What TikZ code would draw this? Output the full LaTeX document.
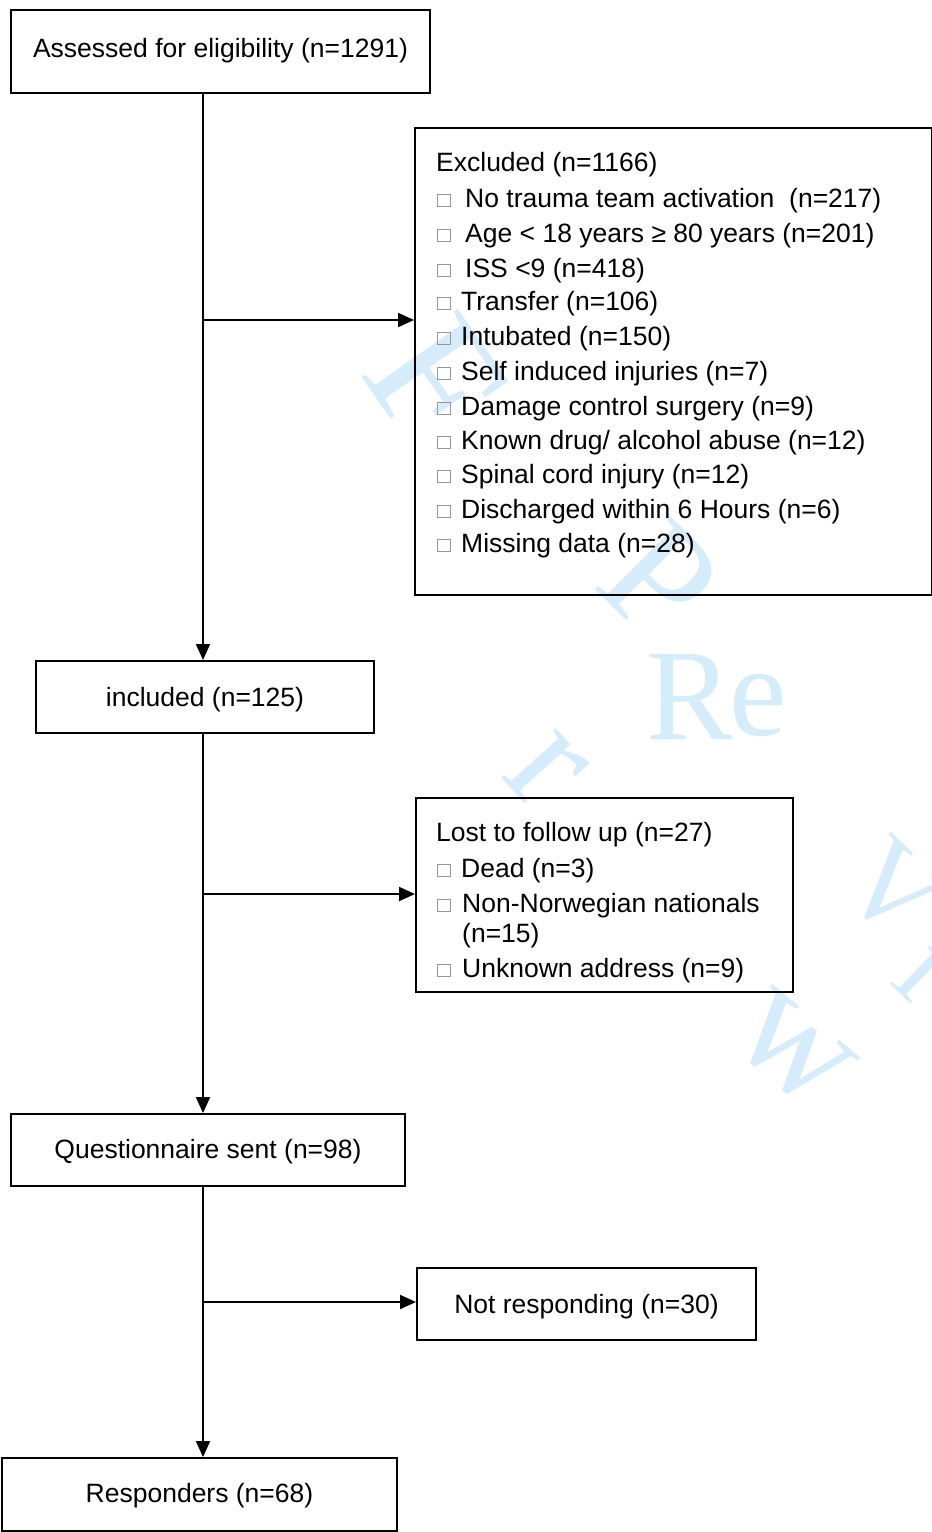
\documentclass[tikz,border=0pt]{standalone}
\usepackage{fontspec}
\setmainfont{Liberation Sans}
\newfontfamily\wmfont{Liberation Serif}
\usetikzlibrary{arrows.meta}
\definecolor{wm}{RGB}{213,236,250}
\definecolor{sqgray}{RGB}{150,150,150}
\begin{document}
\begin{tikzpicture}[x=1pt,y=-1pt,
  box/.style={draw, line width=2pt, inner sep=0pt, anchor=north west,
    font=\fontsize{26.5}{32}\selectfont, text height=19pt, text depth=1pt},
  lbl/.style={font=\fontsize{26.5}{32}\selectfont, inner sep=0pt, anchor=base west},
  sq/.style={draw=sqgray, line width=0.8pt, minimum size=12.5pt, inner sep=0pt, anchor=south west},
  arr/.style={line width=2pt, -{Triangle[length=16pt,width=14pt]}},
  wml/.style={text=wm, inner sep=0pt, font=\wmfont\fontsize{#1}{#1}\selectfont},
  wml/.default=160
]
\useasboundingbox (0,0) rectangle (932,1532);
\fill[white] (0,0) rectangle (932,1532);

% watermark (behind)
\node[wml=180, rotate=-55] (wF) at (435,380) {F};
\node[wml, rotate=-48] (wr) at (545,770) {r};
\node[wml, rotate=-45] (wP) at (660,580) {P};
\node[wml=130] (wR) at (690,697) {R};
\node[wml=130] (we) at (758,705) {e};
\node[wml=120, rotate=-44] (wV) at (893,890) {V};
\node[wml=120, rotate=-44] (wi) at (928,965) {i};
\node[wml, rotate=-40] (ww) at (793,1050) {w};

% boxes
\node[box, minimum width=419pt, minimum height=83pt, text depth=8pt] (assess) at (10,9) {Assessed for eligibility (n=1291)};
\node[box, minimum width=517pt, minimum height=467pt] (excl) at (414,127) {};
\node[box, minimum width=338pt, minimum height=72pt] (incl) at (35,660) {included (n=125)};
\node[box, minimum width=377pt, minimum height=194pt] (lost) at (415,797) {};
\node[box, minimum width=394pt, minimum height=72pt, text depth=3pt] (quest) at (10,1113) {Questionnaire sent (n=98)};
\node[box, minimum width=339pt, minimum height=72pt] (notr) at (416,1267) {Not responding (n=30)};
\node[box, minimum width=395pt, minimum height=73pt, text depth=4pt] (resp) at (1,1457) {Responders (n=68)};

% excluded list
\node[lbl] (ex0) at (436,171) {Excluded (n=1166)};
\node[sq] (b1) at (437,207) {};  \node[lbl] (ex1) at (465,207) {No trauma team activation\ \ (n=217)};
\node[sq] (b2) at (437,242) {};  \node[lbl] (ex2) at (465,242) {Age < 18 years ≥ 80 years (n=201)};
\node[sq] (b3) at (437,277) {};  \node[lbl] (ex3) at (465,277) {ISS <9 (n=418)};
\node[sq] (b4) at (437,310) {};  \node[lbl] (ex4) at (461,310) {Transfer (n=106)};
\node[sq] (b5) at (437,345) {};  \node[lbl] (ex5) at (461,345) {Intubated (n=150)};
\node[sq] (b6) at (437,380) {};  \node[lbl] (ex6) at (461,380) {Self induced injuries (n=7)};
\node[sq] (b7) at (437,415) {};  \node[lbl] (ex7) at (461,415) {Damage control surgery (n=9)};
\node[sq] (b8) at (437,449) {};  \node[lbl] (ex8) at (461,449) {Known drug/ alcohol abuse (n=12)};
\node[sq] (b9) at (437,483) {};  \node[lbl] (ex9) at (461,483) {Spinal cord injury (n=12)};
\node[sq] (b10) at (437,518) {}; \node[lbl] (ex10) at (461,518) {Discharged within 6 Hours (n=6)};
\node[sq] (b11) at (437,552) {}; \node[lbl] (ex11) at (461,552) {Missing data (n=28)};

% lost list
\node[lbl] (lo0) at (436,841) {Lost to follow up (n=27)};
\node[sq] (c1) at (437,877) {}; \node[lbl] (lo1) at (461,877) {Dead (n=3)};
\node[sq] (c2) at (437,912) {}; \node[lbl] (lo2) at (462,912) {Non-Norwegian nationals};
\node[lbl] (lo2b) at (462,942) {(n=15)};
\node[sq] (c3) at (437,977) {}; \node[lbl] (lo3) at (462,977) {Unknown address (n=9)};

% connectors
\coordinate (j1) at (203,320);
\coordinate (j2) at (203,894);
\coordinate (j3) at (203,1302);
\draw[arr] (assess.south -| j1) -- (incl.north -| j1);
\draw[arr] (j1) -- (j1 -| excl.west);
\draw[arr] (incl.south -| j1) -- (quest.north -| j1);
\draw[arr] (j2) -- (j2 -| lost.west);
\draw[arr] (quest.south -| j1) -- (resp.north -| j1);
\draw[arr] (j3) -- (j3 -| notr.west);
\end{tikzpicture}
\end{document}
